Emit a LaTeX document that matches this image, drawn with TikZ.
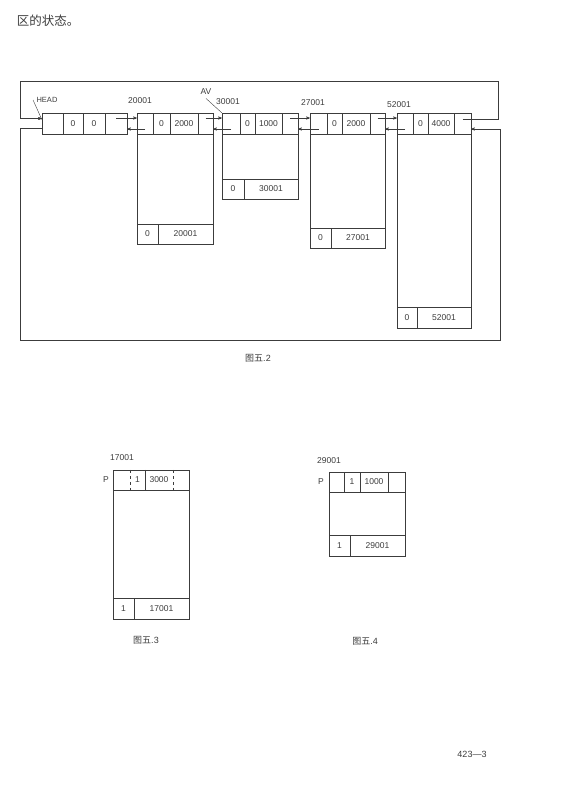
\documentclass[tikz,border=0pt]{standalone}
\usepackage{fontspec}
\setmainfont{Liberation Sans}
\newfontfamily\cjk{Noto Sans CJK SC}
\usepackage{tikz}
\usetikzlibrary{positioning}
\usetikzlibrary{arrows}
\definecolor{ink}{HTML}{3c3c3c}
\tikzset {
  % one field of a block header or footer
  field/.style = {rectangle, inner sep=0pt, minimum height=21pt, text=ink,
                  font=\fontsize{8.5}{9}\selectfont},
  cell/.style = {field, draw=ink, thin},
  % block address above a block
  lbl/.style = {text=ink, font=\fontsize{8.5}{9}\selectfont},
  % figure captions
  figcap/.style = {text=ink, font=\fontsize{9}{10}\selectfont},
  link/.style = {draw=ink, thin},
}

\begin{document}
\begin{tikzpicture}[x=1pt, y=-1pt, >=stealth']
  \useasboundingbox (0,0) rectangle (584,796);

  \node[text=ink, font=\fontsize{12.5}{14}\selectfont\cjk] (top) at (48,21) {区的状态。};

  % ---- fig 5.2 : the free list ----
  \node[cell, minimum width=21pt] (hl) at (52.5,123.5) {};
  \node[cell, minimum width=20pt] (hg) at (73,123.5) {0};
  \node[cell, minimum width=22pt] (hz) at (94,123.5) {0};
  \node[cell, minimum width=22pt] (hr) at (116,123.5) {};

  \node[cell, minimum width=16pt] (al) at (145,123.5) {};
  \node[cell, minimum width=17pt] (ag) at (161.5,123.5) {0};
  \node[cell, minimum width=28pt] (az) at (184,123.5) {2000};
  \node[cell, minimum width=15pt] (ar) at (205.5,123.5) {};
  \node[cell, minimum width=21pt, minimum height=20pt] (a0) at (147.5,234) {0};
  \node[cell, minimum width=55pt, minimum height=20pt] (au) at (185.5,234) {20001};

  \node[cell, minimum width=18pt] (bl) at (231,123.5) {};
  \node[cell, minimum width=15pt] (bg) at (247.5,123.5) {0};
  \node[cell, minimum width=27pt] (bz) at (268.5,123.5) {1000};
  \node[cell, minimum width=16pt] (br) at (290,123.5) {};
  \node[cell, minimum width=22pt, minimum height=20pt] (b0) at (233,189) {0};
  \node[cell, minimum width=54pt, minimum height=20pt] (bu) at (271,189) {30001};

  \node[cell, minimum width=17pt] (cl) at (318.5,123.5) {};
  \node[cell, minimum width=15pt] (cg) at (334.5,123.5) {0};
  \node[cell, minimum width=28pt] (cz) at (356,123.5) {2000};
  \node[cell, minimum width=15pt] (cr) at (377.5,123.5) {};
  \node[cell, minimum width=21pt, minimum height=20pt] (c0) at (320.5,238) {0};
  \node[cell, minimum width=54pt, minimum height=20pt] (cu) at (358,238) {27001};

  \node[cell, minimum width=16pt] (dl) at (405,123.5) {};
  \node[cell, minimum width=15pt] (dg) at (420.5,123.5) {0};
  \node[cell, minimum width=26pt] (dz) at (441,123.5) {4000};
  \node[cell, minimum width=17pt] (dr) at (462.5,123.5) {};
  \node[cell, minimum width=20pt, minimum height=21pt] (d0) at (407,317.5) {0};
  \node[cell, minimum width=54pt, minimum height=21pt] (du) at (444,317.5) {52001};

  % block bodies
  \draw[link] (al.south west) -- (a0.north west);
  \draw[link] (ar.south east) -- (au.north east);
  \draw[link] (bl.south west) -- (b0.north west);
  \draw[link] (br.south east) -- (bu.north east);
  \draw[link] (cl.south west) -- (c0.north west);
  \draw[link] (cr.south east) -- (cu.north east);
  \draw[link] (dl.south west) -- (d0.north west);
  \draw[link] (dr.south east) -- (du.north east);

  \node[lbl, font=\fontsize{7.5}{8}\selectfont] (hname) at (47,100) {HEAD};
  \node[lbl] (aname) at (140,101) {20001};
  \node[lbl] (av) at (206,92) {AV};
  \node[lbl] (bname) at (228,102) {30001};
  \node[lbl] (cname) at (313,103) {27001};
  \node[lbl] (dname) at (399,105) {52001};
  \draw[link] (hname.west) -- ([yshift=4pt]hl.west);
  \draw[link] (av.south) -- (bl.north west);

  % forward and backward links
  \draw[link, ->] ([yshift=5.5pt]hr.center) -- ([yshift=5.5pt]al.west);
  \draw[link, ->] ([yshift=-5.5pt]al.center) -- ([yshift=-5.5pt]hr.east);
  \draw[link, ->] ([yshift=5.5pt]ar.center) -- ([yshift=5.5pt]bl.west);
  \draw[link, ->] ([yshift=-5.5pt]bl.center) -- ([yshift=-5.5pt]ar.east);
  \draw[link, ->] ([yshift=5.5pt]br.center) -- ([yshift=5.5pt]cl.west);
  \draw[link, ->] ([yshift=-5.5pt]cl.center) -- ([yshift=-5.5pt]br.east);
  \draw[link, ->] ([yshift=5.5pt]cr.center) -- ([yshift=5.5pt]dl.west);
  \draw[link, ->] ([yshift=-5.5pt]dl.center) -- ([yshift=-5.5pt]cr.east);

  % the list is circular
  \coordinate (lt) at (20,81);
  \coordinate (rt) at (498,81);
  \coordinate (lb) at (20,340);
  \coordinate (rb) at (500,340);
  \draw[link, ->] ([yshift=4.5pt]dr.center) -| (rt) -- (lt) |- ([yshift=5pt]hl.west);
  \draw[link, ->] ([yshift=-4.5pt]hl.west) -| (lb) -- (rb) |- ([yshift=-5.5pt]dr.east);

  \node[figcap] (cap2) at (258,358) {{\cjk 图五}.2};

  % ---- fig 5.3 ----
  \node[lbl] (ename) at (122,458) {17001};
  \node[lbl] (ep) at (106,480) {P};
  \node[field, minimum width=17pt, minimum height=20pt] (el) at (121.5,480) {};
  \node[field, minimum width=15pt, minimum height=20pt] (eg) at (137.5,480) {1};
  \node[field, minimum width=28pt, minimum height=20pt] (ez) at (159,480) {3000};
  \node[field, minimum width=16pt, minimum height=20pt] (er) at (181,480) {};
  \draw[link] (el.north west) rectangle (er.south east);
  \draw[link, dashed] (el.north east) -- (el.south east);
  \draw[link] (ez.north west) -- (ez.south west);
  \draw[link, dashed] (ez.north east) -- (ez.south east);
  \node[cell, minimum width=21pt] (e0) at (123.5,609) {1};
  \node[cell, minimum width=55pt] (eu) at (161.5,609) {17001};
  \draw[link] (el.south west) -- (e0.north west);
  \draw[link] (er.south east) -- (eu.north east);
  \node[figcap] (cap3) at (146,640) {{\cjk 图五}.3};

  % ---- fig 5.4 ----
  \node[lbl] (fname) at (329,461) {29001};
  \node[lbl] (fp) at (321,482) {P};
  \node[cell, minimum width=15pt, minimum height=20pt] (fl) at (336.5,482) {};
  \node[cell, minimum width=16pt, minimum height=20pt] (fg) at (352,482) {1};
  \node[cell, minimum width=28pt, minimum height=20pt] (fz) at (374,482) {1000};
  \node[cell, minimum width=17pt, minimum height=20pt] (fr) at (396.5,482) {};
  \node[cell, minimum width=21pt] (f0) at (339.5,545.5) {1};
  \node[cell, minimum width=55pt] (fu) at (377.5,545.5) {29001};
  \draw[link] (fl.south west) -- (f0.north west);
  \draw[link] (fr.south east) -- (fu.north east);
  \node[figcap] (cap4) at (365,641) {{\cjk 图五}.4};

  \node[figcap] (page) at (472,754) {423—3};
\end{tikzpicture}
\end{document}
